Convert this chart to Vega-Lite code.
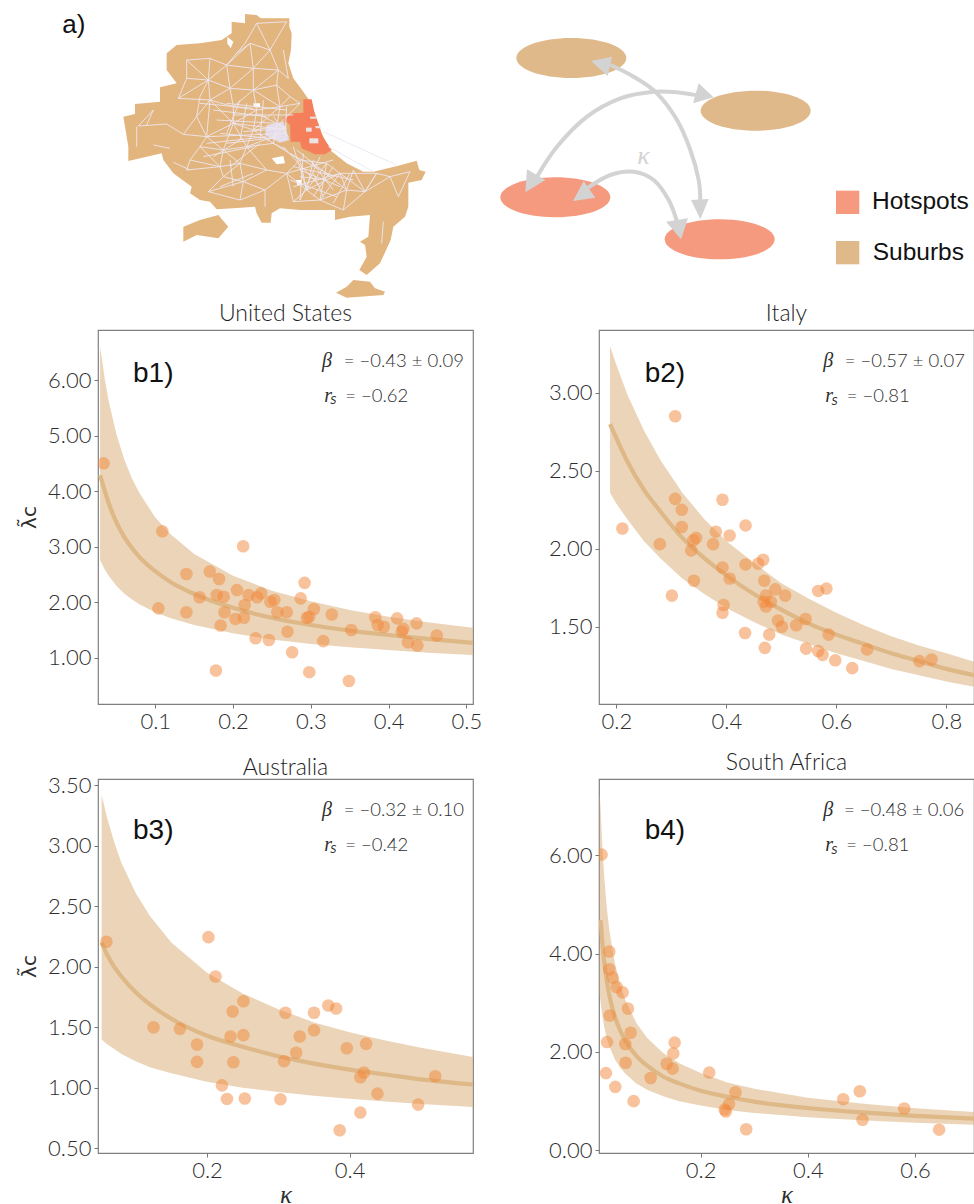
{
"$schema":"https://vega.github.io/schema/vega-lite/v6.json",
"padding":{"left":18,"top":0,"right":0,"bottom":0},
"background":"white",
"bounds":"flush",
"columns":2,
"spacing":{"row":75,"column":126},
"config":{"view":{"stroke":"#808080","strokeWidth":1.2},
"axis":{"grid":false,"domain":false,"labelFont":"Lato","labelFontSize":22,"labelColor":"#2e2e2e","tickColor":"#777777","tickSize":4,"labelPadding":3,"titleFontWeight":"normal","labelFontWeight":300},
"title":{"font":"Lato","fontSize":23,"fontWeight":300,"color":"#1e1e1e","offset":0}},
"datasets":{
"polys":[
{"id":"a1","part":"suburb","x":735,"y":42},{"id":"a1","part":"suburb","x":770,"y":45},{"id":"a1","part":"suburb","x":782,"y":55},{"id":"a1","part":"suburb","x":868,"y":55},{"id":"a1","part":"suburb","x":868,"y":80},{"id":"a1","part":"suburb","x":875,"y":100},{"id":"a1","part":"suburb","x":873,"y":150},{"id":"a1","part":"suburb","x":865,"y":190},{"id":"a1","part":"suburb","x":880,"y":235},{"id":"a1","part":"suburb","x":910,"y":275},{"id":"a1","part":"suburb","x":925,"y":297},{"id":"a1","part":"suburb","x":945,"y":340},{"id":"a1","part":"suburb","x":965,"y":400},{"id":"a1","part":"suburb","x":990,"y":450},{"id":"a1","part":"suburb","x":1040,"y":490},{"id":"a1","part":"suburb","x":1090,"y":515},{"id":"a1","part":"suburb","x":1120,"y":515},{"id":"a1","part":"suburb","x":1195,"y":497},{"id":"a1","part":"suburb","x":1250,"y":482},{"id":"a1","part":"suburb","x":1258,"y":510},{"id":"a1","part":"suburb","x":1277,"y":515},{"id":"a1","part":"suburb","x":1265,"y":540},{"id":"a1","part":"suburb","x":1225,"y":548},{"id":"a1","part":"suburb","x":1225,"y":620},{"id":"a1","part":"suburb","x":1215,"y":650},{"id":"a1","part":"suburb","x":1180,"y":680},{"id":"a1","part":"suburb","x":1172,"y":720},{"id":"a1","part":"suburb","x":1140,"y":790},{"id":"a1","part":"suburb","x":1100,"y":825},{"id":"a1","part":"suburb","x":1078,"y":810},{"id":"a1","part":"suburb","x":1100,"y":770},{"id":"a1","part":"suburb","x":1095,"y":735},{"id":"a1","part":"suburb","x":1080,"y":725},{"id":"a1","part":"suburb","x":1105,"y":710},{"id":"a1","part":"suburb","x":1110,"y":645},{"id":"a1","part":"suburb","x":1050,"y":650},{"id":"a1","part":"suburb","x":1005,"y":660},{"id":"a1","part":"suburb","x":1005,"y":630},{"id":"a1","part":"suburb","x":900,"y":630},{"id":"a1","part":"suburb","x":840,"y":625},{"id":"a1","part":"suburb","x":815,"y":640},{"id":"a1","part":"suburb","x":812,"y":668},{"id":"a1","part":"suburb","x":785,"y":668},{"id":"a1","part":"suburb","x":770,"y":640},{"id":"a1","part":"suburb","x":765,"y":620},{"id":"a1","part":"suburb","x":700,"y":625},{"id":"a1","part":"suburb","x":650,"y":628},{"id":"a1","part":"suburb","x":630,"y":605},{"id":"a1","part":"suburb","x":600,"y":600},{"id":"a1","part":"suburb","x":570,"y":580},{"id":"a1","part":"suburb","x":575,"y":560},{"id":"a1","part":"suburb","x":520,"y":520},{"id":"a1","part":"suburb","x":490,"y":480},{"id":"a1","part":"suburb","x":485,"y":460},{"id":"a1","part":"suburb","x":385,"y":483},{"id":"a1","part":"suburb","x":385,"y":440},{"id":"a1","part":"suburb","x":370,"y":350},{"id":"a1","part":"suburb","x":405,"y":342},{"id":"a1","part":"suburb","x":405,"y":312},{"id":"a1","part":"suburb","x":480,"y":305},{"id":"a1","part":"suburb","x":480,"y":262},{"id":"a1","part":"suburb","x":530,"y":250},{"id":"a1","part":"suburb","x":500,"y":210},{"id":"a1","part":"suburb","x":500,"y":160},{"id":"a1","part":"suburb","x":530,"y":135},{"id":"a1","part":"suburb","x":600,"y":130},{"id":"a1","part":"suburb","x":665,"y":120},{"id":"a1","part":"suburb","x":695,"y":100},{"id":"a1","part":"suburb","x":695,"y":65},{"id":"a1","part":"suburb","x":735,"y":70},
{"id":"a2","part":"suburb","x":550,"y":680},{"id":"a2","part":"suburb","x":600,"y":660},{"id":"a2","part":"suburb","x":655,"y":645},{"id":"a2","part":"suburb","x":685,"y":680},{"id":"a2","part":"suburb","x":655,"y":715},{"id":"a2","part":"suburb","x":590,"y":705},{"id":"a2","part":"suburb","x":550,"y":725},
{"id":"a3","part":"suburb","x":1008,"y":878},{"id":"a3","part":"suburb","x":1040,"y":860},{"id":"a3","part":"suburb","x":1060,"y":840},{"id":"a3","part":"suburb","x":1110,"y":845},{"id":"a3","part":"suburb","x":1125,"y":865},{"id":"a3","part":"suburb","x":1155,"y":875},{"id":"a3","part":"suburb","x":1150,"y":885},{"id":"a3","part":"suburb","x":1080,"y":890},{"id":"a3","part":"suburb","x":1040,"y":893},
{"id":"b1","part":"hole","x":815,"y":475},{"id":"b1","part":"hole","x":850,"y":468},{"id":"b1","part":"hole","x":855,"y":490},{"id":"b1","part":"hole","x":830,"y":493},
{"id":"b2","part":"hole","x":760,"y":310},{"id":"b2","part":"hole","x":780,"y":310},{"id":"b2","part":"hole","x":780,"y":322},{"id":"b2","part":"hole","x":762,"y":322},
{"id":"b3","part":"hole","x":888,"y":540},{"id":"b3","part":"hole","x":905,"y":540},{"id":"b3","part":"hole","x":905,"y":556},{"id":"b3","part":"hole","x":892,"y":556},
{"id":"b4","part":"hole","x":682,"y":110},{"id":"b4","part":"hole","x":700,"y":125},{"id":"b4","part":"hole","x":692,"y":145},{"id":"b4","part":"hole","x":682,"y":130},
{"id":"c1","part":"dense","x":800,"y":375},{"id":"c1","part":"dense","x":850,"y":365},{"id":"c1","part":"dense","x":868,"y":420},{"id":"c1","part":"dense","x":840,"y":428},{"id":"c1","part":"dense","x":795,"y":405},
{"id":"d1","part":"hot","x":910,"y":298},{"id":"d1","part":"hot","x":935,"y":298},{"id":"d1","part":"hot","x":945,"y":345},{"id":"d1","part":"hot","x":958,"y":380},{"id":"d1","part":"hot","x":968,"y":410},{"id":"d1","part":"hot","x":995,"y":450},{"id":"d1","part":"hot","x":975,"y":463},{"id":"d1","part":"hot","x":945,"y":463},{"id":"d1","part":"hot","x":905,"y":445},{"id":"d1","part":"hot","x":900,"y":425},{"id":"d1","part":"hot","x":872,"y":425},{"id":"d1","part":"hot","x":870,"y":375},{"id":"d1","part":"hot","x":848,"y":355},{"id":"d1","part":"hot","x":880,"y":340},{"id":"d1","part":"hot","x":910,"y":338},
{"id":"e1","part":"hole2","x":928,"y":415},{"id":"e1","part":"hole2","x":955,"y":415},{"id":"e1","part":"hole2","x":955,"y":430},{"id":"e1","part":"hole2","x":928,"y":430},
{"id":"e2","part":"hole2","x":918,"y":383},{"id":"e2","part":"hole2","x":935,"y":383},{"id":"e2","part":"hole2","x":935,"y":395},{"id":"e2","part":"hole2","x":918,"y":395},
{"id":"e3","part":"hole2","x":930,"y":350},{"id":"e3","part":"hole2","x":950,"y":350},{"id":"e3","part":"hole2","x":950,"y":356},{"id":"e3","part":"hole2","x":930,"y":356},
{"id":"e4","part":"hole2","x":945,"y":378},{"id":"e4","part":"hole2","x":962,"y":378},{"id":"e4","part":"hole2","x":962,"y":385},{"id":"e4","part":"hole2","x":948,"y":385}
],
"edges":[
{"x":860,"y":65,"x2":770,"y2":70},{"x":770,"y":70,"x2":735,"y2":130},{"x":770,"y":70,"x2":810,"y2":150},{"x":860,"y":65,"x2":810,"y2":150},{"x":810,"y":150,"x2":835,"y2":210},{"x":810,"y":150,"x2":750,"y2":130},{"x":750,"y":130,"x2":710,"y2":160},{"x":750,"y":130,"x2":760,"y2":205},{"x":810,"y":150,"x2":760,"y2":205},{"x":735,"y":130,"x2":680,"y2":195},{"x":750,"y":130,"x2":680,"y2":195},{"x":680,"y":195,"x2":630,"y2":175},{"x":630,"y":175,"x2":560,"y2":180},{"x":560,"y":180,"x2":560,"y2":235},{"x":560,"y":180,"x2":625,"y2":240},{"x":630,"y":175,"x2":625,"y2":240},{"x":680,"y":195,"x2":625,"y2":240},{"x":680,"y":195,"x2":690,"y2":265},{"x":680,"y":195,"x2":760,"y2":205},{"x":760,"y":205,"x2":690,"y2":265},{"x":760,"y":205,"x2":760,"y2":270},{"x":760,"y":205,"x2":835,"y2":210},{"x":835,"y":210,"x2":830,"y2":255},{"x":835,"y":210,"x2":760,"y2":270},{"x":850,"y":150,"x2":865,"y2":235},{"x":835,"y":210,"x2":865,"y2":235},{"x":830,"y":255,"x2":870,"y2":290},{"x":830,"y":255,"x2":760,"y2":270},{"x":560,"y":235,"x2":535,"y2":295},{"x":560,"y":235,"x2":625,"y2":240},{"x":535,"y":295,"x2":625,"y2":240},{"x":625,"y":240,"x2":690,"y2":265},{"x":625,"y":240,"x2":600,"y2":290},{"x":625,"y":240,"x2":630,"y2":300},{"x":690,"y":265,"x2":630,"y2":300},{"x":690,"y":265,"x2":760,"y2":270},{"x":690,"y":265,"x2":700,"y2":320},{"x":760,"y":270,"x2":700,"y2":320},{"x":760,"y":270,"x2":770,"y2":330},{"x":760,"y":270,"x2":840,"y2":320},{"x":830,"y":255,"x2":840,"y2":320},{"x":870,"y":290,"x2":840,"y2":320},{"x":870,"y":290,"x2":900,"y2":310},{"x":840,"y":320,"x2":900,"y2":310},{"x":535,"y":295,"x2":630,"y2":300},{"x":630,"y":300,"x2":700,"y2":320},{"x":700,"y":320,"x2":770,"y2":330},{"x":770,"y":330,"x2":840,"y2":320},
{"x":600,"y":290,"x2":590,"y2":350},{"x":590,"y":350,"x2":630,"y2":300},{"x":590,"y":350,"x2":620,"y2":410},{"x":630,"y":300,"x2":620,"y2":410},{"x":630,"y":300,"x2":700,"y2":370},{"x":700,"y":320,"x2":700,"y2":370},{"x":770,"y":330,"x2":700,"y2":370},{"x":770,"y":330,"x2":760,"y2":390},{"x":840,"y":320,"x2":760,"y2":390},{"x":840,"y":320,"x2":830,"y2":380},{"x":900,"y":310,"x2":830,"y2":380},{"x":700,"y":370,"x2":760,"y2":390},{"x":760,"y":390,"x2":830,"y2":380},{"x":620,"y":410,"x2":700,"y2":370},{"x":620,"y":410,"x2":550,"y2":403},{"x":550,"y":403,"x2":590,"y2":350},{"x":620,"y":410,"x2":600,"y2":440},{"x":620,"y":410,"x2":670,"y2":450},{"x":700,"y":370,"x2":670,"y2":450},{"x":700,"y":370,"x2":740,"y2":440},{"x":760,"y":390,"x2":740,"y2":440},{"x":760,"y":390,"x2":820,"y2":430},{"x":830,"y":380,"x2":820,"y2":430},{"x":740,"y":440,"x2":820,"y2":430},{"x":670,"y":450,"x2":740,"y2":440},{"x":600,"y":440,"x2":670,"y2":450},{"x":600,"y":440,"x2":570,"y2":480},{"x":600,"y":440,"x2":660,"y2":500},{"x":670,"y":450,"x2":660,"y2":500},{"x":670,"y":450,"x2":720,"y2":490},{"x":740,"y":440,"x2":720,"y2":490},{"x":570,"y":480,"x2":660,"y2":500},{"x":660,"y":500,"x2":720,"y2":490},{"x":570,"y":480,"x2":560,"y2":510},{"x":560,"y":510,"x2":660,"y2":500},
{"x":660,"y":500,"x2":670,"y2":530},{"x":720,"y":490,"x2":670,"y2":530},{"x":720,"y":490,"x2":730,"y2":545},{"x":670,"y":530,"x2":730,"y2":545},{"x":670,"y":530,"x2":625,"y2":575},{"x":730,"y":545,"x2":625,"y2":575},{"x":730,"y":545,"x2":720,"y2":600},{"x":625,"y":575,"x2":720,"y2":600},{"x":730,"y":545,"x2":795,"y2":570},{"x":720,"y":600,"x2":795,"y2":570},{"x":795,"y":570,"x2":860,"y2":520},{"x":730,"y":545,"x2":800,"y2":510},{"x":720,"y":490,"x2":800,"y2":510},{"x":800,"y":510,"x2":860,"y2":520},{"x":795,"y":570,"x2":795,"y2":620},{"x":860,"y":520,"x2":920,"y2":570},{"x":860,"y":520,"x2":900,"y2":480},{"x":900,"y":480,"x2":980,"y2":490},{"x":860,"y":520,"x2":880,"y2":605},{"x":880,"y":605,"x2":920,"y2":570},{"x":920,"y":570,"x2":960,"y2":600},{"x":880,"y":605,"x2":960,"y2":600},{"x":920,"y":570,"x2":900,"y2":480},{"x":920,"y":570,"x2":980,"y2":490},{"x":980,"y":490,"x2":1020,"y2":520},{"x":920,"y":570,"x2":1020,"y2":520},{"x":960,"y":600,"x2":1020,"y2":520},{"x":960,"y":600,"x2":1030,"y2":630},{"x":1020,"y":520,"x2":1040,"y2":570},{"x":960,"y":600,"x2":1040,"y2":570},{"x":1030,"y":630,"x2":1040,"y2":570},{"x":1040,"y":570,"x2":1095,"y2":575},{"x":1020,"y":520,"x2":1095,"y2":575},{"x":1030,"y":630,"x2":1095,"y2":575},{"x":1020,"y":520,"x2":1130,"y2":520},{"x":1095,"y":575,"x2":1130,"y2":520},{"x":1130,"y":520,"x2":1170,"y2":530},{"x":1170,"y":530,"x2":1195,"y2":590},{"x":1170,"y":530,"x2":1230,"y2":515},{"x":1195,"y":590,"x2":1230,"y2":515},{"x":1095,"y":575,"x2":1170,"y2":530},{"x":820,"y":430,"x2":900,"y2":480},{"x":820,"y":430,"x2":860,"y2":450},{"x":740,"y":440,"x2":800,"y2":510},
{"x":415,"y":378,"x2":460,"y2":330},{"x":460,"y":330,"x2":440,"y2":375},{"x":415,"y":378,"x2":500,"y2":372},{"x":500,"y":372,"x2":550,"y2":403},{"x":410,"y":380,"x2":410,"y2":440},{"x":460,"y":435,"x2":510,"y2":445},{"x":520,"y":487,"x2":570,"y2":510},{"x":1150,"y":665,"x2":1145,"y2":730},{"x":970,"y":395,"x2":1190,"y2":495},{"x":985,"y":440,"x2":1120,"y2":515},
{"x":700,"y":370,"x2":860,"y2":390},{"x":740,"y":440,"x2":860,"y2":395},{"x":620,"y":410,"x2":860,"y2":400},{"x":730,"y":395,"x2":860,"y2":385},{"x":770,"y":340,"x2":860,"y2":385},{"x":800,"y":425,"x2":860,"y2":375},{"x":820,"y":350,"x2":865,"y2":410},{"x":860,"y":320,"x2":855,"y2":420},{"x":850,"y":440,"x2":960,"y2":560},{"x":880,"y":440,"x2":920,"y2":570},{"x":870,"y":460,"x2":1000,"y2":530},{"x":890,"y":450,"x2":1040,"y2":570},{"x":860,"y":520,"x2":1000,"y2":480},{"x":900,"y":530,"x2":980,"y2":540},{"x":900,"y":510,"x2":1020,"y2":560},{"x":940,"y":480,"x2":920,"y2":570},{"x":980,"y":490,"x2":960,"y2":600},{"x":1060,"y":510,"x2":1040,"y2":570},{"x":1060,"y":510,"x2":1095,"y2":575},{"x":880,"y":560,"x2":1020,"y2":520},{"x":680,"y":310,"x2":860,"y2":330},{"x":700,"y":345,"x2":880,"y2":345},{"x":660,"y":400,"x2":860,"y2":420},
{"x":600,"y":310,"x2":760,"y2":325},{"x":640,"y":330,"x2":800,"y2":350},{"x":650,"y":360,"x2":830,"y2":370},{"x":720,"y":300,"x2":680,"y2":400},{"x":740,"y":310,"x2":720,"y2":420},{"x":790,"y":300,"x2":780,"y2":420},{"x":620,"y":430,"x2":800,"y2":410},{"x":680,"y":430,"x2":850,"y2":410},{"x":610,"y":470,"x2":760,"y2":440},{"x":640,"y":470,"x2":720,"y2":420},{"x":690,"y":500,"x2":780,"y2":430},{"x":700,"y":560,"x2":690,"y2":480},{"x":660,"y":560,"x2":760,"y2":520},{"x":910,"y":460,"x2":900,"y2":600},{"x":960,"y":470,"x2":900,"y2":600},{"x":1000,"y":500,"x2":940,"y2":590},{"x":880,"y":500,"x2":1060,"y2":540},{"x":870,"y":540,"x2":1010,"y2":590},{"x":1050,"y":520,"x2":1000,"y2":610},{"x":1130,"y":520,"x2":1095,"y2":575},{"x":940,"y":520,"x2":970,"y2":590},{"x":930,"y":480,"x2":1000,"y2":570}
],
"curves":[
{"id":"A","x":1831,"y":195},{"id":"A","x":1901,"y":230},{"id":"A","x":1971,"y":280},{"id":"A","x":2031,"y":360},{"id":"A","x":2071,"y":450},{"id":"A","x":2096,"y":540},{"id":"A","x":2101,"y":610},
{"id":"B","x":1611,"y":530},{"id":"B","x":1671,"y":440},{"id":"B","x":1761,"y":350},{"id":"B","x":1861,"y":295},{"id":"B","x":1961,"y":275},{"id":"B","x":2041,"y":278},{"id":"B","x":2101,"y":288},
{"id":"C","x":1761,"y":565},{"id":"C","x":1831,"y":525},{"id":"C","x":1901,"y":515},{"id":"C","x":1961,"y":540},{"id":"C","x":2006,"y":600},{"id":"C","x":2031,"y":665}
],
"heads":[
{"id":"h1","x":1773,"y":183},{"id":"h1","x":1836,"y":170},{"id":"h1","x":1823,"y":228},
{"id":"h2","x":2101,"y":658},{"id":"h2","x":2073,"y":600},{"id":"h2","x":2126,"y":597},
{"id":"h3","x":2141,"y":292},{"id":"h3","x":2096,"y":250},{"id":"h3","x":2079,"y":310},
{"id":"h4","x":1576,"y":577},{"id":"h4","x":1581,"y":508},{"id":"h4","x":1636,"y":540},
{"id":"h5","x":1719,"y":603},{"id":"h5","x":1751,"y":543},{"id":"h5","x":1786,"y":593},
{"id":"h6","x":2043,"y":718},{"id":"h6","x":1998,"y":665},{"id":"h6","x":2064,"y":655}
],
"blobs":[{"x":1714,"y":174,"group":"Suburbs"},{"x":2267,"y":332,"group":"Suburbs"},{"x":1666,"y":592,"group":"Hotspots"},{"x":2159,"y":718,"group":"Hotspots"}],
"keys":[{"x":2543,"y":607,"group":"Hotspots"},{"x":2543,"y":758,"group":"Suburbs"}],
"topText":[{"x":187,"y":99,"t":"a)","part":"big"},{"x":2616,"y":627,"t":"Hotspots","part":"key"},{"x":2618,"y":780,"t":"Suburbs","part":"key"},{"x":1912,"y":492,"t":"κ","part":"kappa"}],
"usPts":[{"k":0.0335,"v":4.505},{"k":0.109,"v":3.28},{"k":0.213,"v":3.01},{"k":0.292,"v":2.35},{"k":0.14,"v":2.51},{"k":0.17,"v":2.555},{"k":0.182,"v":2.42},{"k":0.157,"v":2.09},{"k":0.179,"v":2.13},{"k":0.188,"v":2.1},{"k":0.205,"v":2.22},{"k":0.22,"v":2.13},{"k":0.231,"v":2.09},{"k":0.236,"v":2.16},{"k":0.248,"v":2.01},{"k":0.253,"v":2.04},{"k":0.287,"v":2.07},{"k":0.304,"v":1.88},{"k":0.215,"v":1.95},{"k":0.104,"v":1.89},{"k":0.14,"v":1.82},{"k":0.189,"v":1.82},{"k":0.203,"v":1.7},{"k":0.214,"v":1.72},{"k":0.257,"v":1.82},{"k":0.269,"v":1.82},{"k":0.295,"v":1.72},{"k":0.298,"v":1.74},{"k":0.327,"v":1.78},{"k":0.383,"v":1.73},{"k":0.386,"v":1.59},{"k":0.394,"v":1.56},{"k":0.411,"v":1.71},{"k":0.352,"v":1.5},{"k":0.419,"v":1.52},{"k":0.417,"v":1.47},{"k":0.436,"v":1.62},{"k":0.462,"v":1.4},{"k":0.425,"v":1.28},{"k":0.437,"v":1.22},{"k":0.184,"v":1.58},{"k":0.27,"v":1.47},{"k":0.316,"v":1.3},{"k":0.229,"v":1.35},{"k":0.246,"v":1.32},{"k":0.276,"v":1.1},{"k":0.178,"v":0.77},{"k":0.298,"v":0.74},{"k":0.349,"v":0.58}],
"usFit":[{"k":0.029,"lo":2.76,"m":4.29,"hi":6.61},{"k":0.035,"lo":2.59,"m":4.01,"hi":6.03},{"k":0.04,"lo":2.48,"m":3.79,"hi":5.63},{"k":0.05,"lo":2.3,"m":3.44,"hi":5.03},{"k":0.06,"lo":2.16,"m":3.18,"hi":4.58},{"k":0.07,"lo":2.05,"m":2.98,"hi":4.23},{"k":0.08,"lo":1.96,"m":2.81,"hi":3.96},{"k":0.1,"lo":1.82,"m":2.56,"hi":3.53},{"k":0.12,"lo":1.71,"m":2.36,"hi":3.22},{"k":0.15,"lo":1.59,"m":2.15,"hi":2.87},{"k":0.2,"lo":1.44,"m":1.9,"hi":2.48},{"k":0.25,"lo":1.33,"m":1.72,"hi":2.21},{"k":0.3,"lo":1.25,"m":1.59,"hi":2.02},{"k":0.35,"lo":1.19,"m":1.49,"hi":1.86},{"k":0.4,"lo":1.14,"m":1.41,"hi":1.74},{"k":0.45,"lo":1.09,"m":1.34,"hi":1.64},{"k":0.5086,"lo":1.05,"m":1.27,"hi":1.54}],
"usText":[{"k":0.0713,"v":5.97,"t":"b1)","part":"lab"},{"k":0.3144,"v":6.24,"t":"β","part":"it"},{"k":0.3423,"v":6.24,"t":"= −0.43 ± 0.09","part":"eq"},{"k":0.3174,"v":5.61,"t":"r","part":"it"},{"k":0.3251,"v":5.568,"t":"S","part":"sub"},{"k":0.3444,"v":5.61,"t":"= −0.62","part":"eq"}],
"itPts":[{"k":0.307,"v":2.85},{"k":0.393,"v":2.315},{"k":0.307,"v":2.32},{"k":0.319,"v":2.25},{"k":0.319,"v":2.14},{"k":0.435,"v":2.15},{"k":0.211,"v":2.13},{"k":0.381,"v":2.11},{"k":0.406,"v":2.085},{"k":0.279,"v":2.03},{"k":0.345,"v":2.07},{"k":0.34,"v":2.055},{"k":0.376,"v":2.03},{"k":0.336,"v":1.99},{"k":0.467,"v":1.93},{"k":0.458,"v":1.905},{"k":0.435,"v":1.9},{"k":0.393,"v":1.88},{"k":0.406,"v":1.81},{"k":0.341,"v":1.795},{"k":0.469,"v":1.795},{"k":0.301,"v":1.7},{"k":0.489,"v":1.74},{"k":0.507,"v":1.7},{"k":0.472,"v":1.7},{"k":0.567,"v":1.73},{"k":0.582,"v":1.745},{"k":0.468,"v":1.66},{"k":0.481,"v":1.66},{"k":0.472,"v":1.63},{"k":0.395,"v":1.64},{"k":0.393,"v":1.59},{"k":0.494,"v":1.54},{"k":0.501,"v":1.5},{"k":0.544,"v":1.55},{"k":0.527,"v":1.51},{"k":0.434,"v":1.46},{"k":0.478,"v":1.45},{"k":0.586,"v":1.45},{"k":0.47,"v":1.365},{"k":0.545,"v":1.36},{"k":0.567,"v":1.345},{"k":0.575,"v":1.32},{"k":0.598,"v":1.285},{"k":0.629,"v":1.235},{"k":0.656,"v":1.355},{"k":0.751,"v":1.28},{"k":0.773,"v":1.29}],
"itFit":[{"k":0.1885,"lo":2.36,"m":2.8,"hi":3.3},{"k":0.2,"lo":2.29,"m":2.71,"hi":3.18},{"k":0.22,"lo":2.19,"m":2.56,"hi":2.99},{"k":0.25,"lo":2.05,"m":2.38,"hi":2.76},{"k":0.28,"lo":1.94,"m":2.24,"hi":2.57},{"k":0.32,"lo":1.81,"m":2.07,"hi":2.36},{"k":0.36,"lo":1.71,"m":1.94,"hi":2.19},{"k":0.4,"lo":1.62,"m":1.83,"hi":2.05},{"k":0.45,"lo":1.53,"m":1.71,"hi":1.91},{"k":0.5,"lo":1.45,"m":1.61,"hi":1.78},{"k":0.55,"lo":1.39,"m":1.52,"hi":1.68},{"k":0.6,"lo":1.33,"m":1.45,"hi":1.59},{"k":0.65,"lo":1.28,"m":1.39,"hi":1.51},{"k":0.7,"lo":1.23,"m":1.33,"hi":1.44},{"k":0.75,"lo":1.19,"m":1.28,"hi":1.38},{"k":0.8,"lo":1.15,"m":1.23,"hi":1.33},{"k":0.8503,"lo":1.116,"m":1.19,"hi":1.276}],
"itText":[{"k":0.2515,"v":3.068,"t":"b2)","part":"lab"},{"k":0.5764,"v":3.164,"t":"β","part":"it"},{"k":0.6152,"v":3.164,"t":"= −0.57 ± 0.07","part":"eq"},{"k":0.58,"v":2.94,"t":"r","part":"it"},{"k":0.591,"v":2.925,"t":"S","part":"sub"},{"k":0.6188,"v":2.94,"t":"= −0.81","part":"eq"}],
"auPts":[{"k":0.059,"v":2.207},{"k":0.202,"v":2.245},{"k":0.212,"v":1.92},{"k":0.251,"v":1.715},{"k":0.236,"v":1.63},{"k":0.31,"v":1.62},{"k":0.35,"v":1.62},{"k":0.37,"v":1.68},{"k":0.381,"v":1.655},{"k":0.125,"v":1.5},{"k":0.162,"v":1.487},{"k":0.233,"v":1.424},{"k":0.251,"v":1.435},{"k":0.35,"v":1.476},{"k":0.33,"v":1.424},{"k":0.186,"v":1.358},{"k":0.423,"v":1.363},{"k":0.396,"v":1.327},{"k":0.325,"v":1.29},{"k":0.186,"v":1.214},{"k":0.237,"v":1.211},{"k":0.308,"v":1.22},{"k":0.42,"v":1.126},{"k":0.415,"v":1.087},{"k":0.52,"v":1.096},{"k":0.221,"v":1.02},{"k":0.439,"v":0.952},{"k":0.228,"v":0.908},{"k":0.253,"v":0.911},{"k":0.303,"v":0.905},{"k":0.496,"v":0.861},{"k":0.415,"v":0.795},{"k":0.386,"v":0.649}],
"auFit":[{"k":0.0523,"lo":1.4,"m":2.2,"hi":3.42},{"k":0.06,"lo":1.36,"m":2.1,"hi":3.23},{"k":0.07,"lo":1.32,"m":2.0,"hi":3.03},{"k":0.08,"lo":1.28,"m":1.92,"hi":2.86},{"k":0.1,"lo":1.22,"m":1.79,"hi":2.61},{"k":0.12,"lo":1.17,"m":1.69,"hi":2.42},{"k":0.15,"lo":1.12,"m":1.57,"hi":2.2},{"k":0.2,"lo":1.05,"m":1.43,"hi":1.95},{"k":0.25,"lo":1.0,"m":1.34,"hi":1.78},{"k":0.3,"lo":0.966,"m":1.26,"hi":1.65},{"k":0.35,"lo":0.935,"m":1.2,"hi":1.54},{"k":0.4,"lo":0.909,"m":1.15,"hi":1.46},{"k":0.45,"lo":0.886,"m":1.11,"hi":1.39},{"k":0.5,"lo":0.866,"m":1.07,"hi":1.33},{"k":0.5729,"lo":0.842,"m":1.027,"hi":1.255}],
"auText":[{"k":0.0963,"v":3.056,"t":"b3)","part":"lab"},{"k":0.3612,"v":3.246,"t":"β","part":"it"},{"k":0.3916,"v":3.246,"t":"= −0.32 ± 0.10","part":"eq"},{"k":0.3645,"v":2.957,"t":"r","part":"it"},{"k":0.3729,"v":2.937,"t":"S","part":"sub"},{"k":0.3939,"v":2.957,"t":"= −0.42","part":"eq"}],
"zaPts":[{"k":0.0152,"v":6.01},{"k":0.0296,"v":4.04},{"k":0.0296,"v":3.68},{"k":0.0358,"v":3.51},{"k":0.0432,"v":3.32},{"k":0.0544,"v":3.21},{"k":0.0644,"v":2.88},{"k":0.0302,"v":2.74},{"k":0.0694,"v":2.39},{"k":0.0252,"v":2.2},{"k":0.0594,"v":2.16},{"k":0.1515,"v":2.19},{"k":0.149,"v":1.97},{"k":0.06,"v":1.78},{"k":0.1366,"v":1.76},{"k":0.1477,"v":1.66},{"k":0.0233,"v":1.57},{"k":0.216,"v":1.58},{"k":0.0407,"v":1.29},{"k":0.1067,"v":1.47},{"k":0.075,"v":1.0},{"k":0.265,"v":1.18},{"k":0.466,"v":1.04},{"k":0.497,"v":1.2},{"k":0.253,"v":0.94},{"k":0.245,"v":0.83},{"k":0.247,"v":0.79},{"k":0.58,"v":0.85},{"k":0.502,"v":0.62},{"k":0.285,"v":0.43},{"k":0.645,"v":0.42}],
"zaFit":[{"k":0.0115,"lo":3.2,"hi":7.25},{"k":0.0134,"lo":3.0,"m":4.68,"hi":6.92},{"k":0.016,"lo":2.77,"m":4.29,"hi":6.28},{"k":0.02,"lo":2.51,"m":3.84,"hi":5.56},{"k":0.025,"lo":2.27,"m":3.43,"hi":4.91},{"k":0.03,"lo":2.1,"m":3.13,"hi":4.44},{"k":0.04,"lo":1.85,"m":2.71,"hi":3.79},{"k":0.05,"lo":1.68,"m":2.43,"hi":3.36},{"k":0.06,"lo":1.55,"m":2.22,"hi":3.04},{"k":0.08,"lo":1.36,"m":1.92,"hi":2.59},{"k":0.1,"lo":1.23,"m":1.72,"hi":2.29},{"k":0.13,"lo":1.1,"m":1.5,"hi":1.98},{"k":0.16,"lo":1.0,"m":1.36,"hi":1.77},{"k":0.2,"lo":0.91,"m":1.21,"hi":1.57},{"k":0.25,"lo":0.82,"m":1.09,"hi":1.38},{"k":0.3,"lo":0.76,"m":0.99,"hi":1.25},{"k":0.4,"lo":0.67,"m":0.86,"hi":1.07},{"k":0.5,"lo":0.61,"m":0.77,"hi":0.95},{"k":0.6,"lo":0.56,"m":0.7,"hi":0.855},{"k":0.7101,"lo":0.52,"m":0.644,"hi":0.78}],
"zaText":[{"k":0.0955,"v":6.325,"t":"b4)","part":"lab"},{"k":0.4289,"v":6.793,"t":"β","part":"it"},{"k":0.4675,"v":6.793,"t":"= −0.48 ± 0.06","part":"eq"},{"k":0.4327,"v":6.08,"t":"r","part":"it"},{"k":0.4439,"v":6.03,"t":"S","part":"sub"},{"k":0.4719,"v":6.08,"t":"= −0.81","part":"eq"}]
},
"concat":[
{"width":375,"height":254.5,"view":{"stroke":null},
"encoding":{"x":{"field":"x","type":"quantitative","scale":{"domain":[294,1419],"nice":false,"zero":false},"axis":null},"y":{"field":"y","type":"quantitative","scale":{"domain":[763.5,0],"nice":false,"zero":false},"axis":null}},
"layer":[
{"data":{"name":"polys"},"transform":[{"window":[{"op":"row_number","as":"o"}]}],"mark":{"type":"line","strokeWidth":0},"encoding":{"order":{"field":"o"},"detail":{"field":"id"},"fill":{"field":"part","type":"nominal","legend":null,"scale":{"domain":["suburb","hole","dense","hot","hole2"],"range":["#e3b57e","#ffffff","#e4dce8","#f47f5a","#ece4e4"]}}}},
{"data":{"name":"edges"},"mark":{"type":"rule","color":"#ece6f0","strokeWidth":0.9},"encoding":{"x2":{"field":"x2"},"y2":{"field":"y2"}}},
{"data":{"name":"topText"},"transform":[{"filter":"datum.part=='big'"}],"mark":{"type":"text","font":"Liberation Sans","fontSize":26,"align":"left","baseline":"alphabetic","color":"#111111"},"encoding":{"text":{"field":"t"}}}
]},
{"width":375,"height":254.5,"view":{"stroke":null},
"encoding":{"x":{"field":"x","type":"quantitative","scale":{"domain":[1797,2922],"nice":false,"zero":false},"axis":null},"y":{"field":"y","type":"quantitative","scale":{"domain":[763.5,0],"nice":false,"zero":false},"axis":null}},
"layer":[
{"data":{"name":"blobs"},"mark":{"type":"point","filled":true,"opacity":1,"shape":"M-1,0A1,0.3636 0 1,1 1,0A1,0.3636 0 1,1 -1,0Z","size":12100},"encoding":{"color":{"field":"group","type":"nominal","legend":null,"scale":{"domain":["Hotspots","Suburbs"],"range":["#f59a7e","#dfb98a"]}}}},
{"data":{"name":"curves"},"transform":[{"window":[{"op":"row_number","as":"o"}]}],"mark":{"type":"line","color":"#d3d3d3","strokeWidth":4,"interpolate":"cardinal"},"encoding":{"order":{"field":"o"},"detail":{"field":"id"}}},
{"data":{"name":"heads"},"transform":[{"window":[{"op":"row_number","as":"o"}]}],"mark":{"type":"line","fill":"#d3d3d3","strokeWidth":0},"encoding":{"order":{"field":"o"},"detail":{"field":"id"}}},
{"data":{"name":"keys"},"mark":{"type":"point","filled":true,"opacity":1,"shape":"square","size":543},"encoding":{"color":{"field":"group","type":"nominal","legend":null,"scale":{"domain":["Hotspots","Suburbs"],"range":["#eb9f80","#d8b98c"]}}}},
{"data":{"name":"topText"},"transform":[{"filter":"datum.part=='key'"}],"mark":{"type":"text","font":"Liberation Sans","fontSize":24.5,"align":"left","baseline":"alphabetic","color":"#111111"},"encoding":{"text":{"field":"t"}}},
{"data":{"name":"topText"},"transform":[{"filter":"datum.part=='kappa'"}],"mark":{"type":"text","font":"Liberation Serif","fontStyle":"italic","fontSize":26,"align":"left","baseline":"alphabetic","color":"#d3d3d3"},"encoding":{"text":{"field":"t"}}}
]},
{"width":375,"height":374,"title":"United States",
"encoding":{"x":{"field":"k","type":"quantitative","scale":{"domain":[0.0263,0.5086],"nice":false,"zero":false},"axis":{"values":[0.1,0.2,0.3,0.4,0.5],"format":".1f","title":null}},"y":{"type":"quantitative","scale":{"domain":[0.166,6.909],"nice":false,"zero":false},"axis":{"values":[1,2,3,4,5,6],"format":".2f","title":"λ̃c","titleFont":"DejaVu Sans","titleFontSize":20,"titleColor":"#2e2e2e","titlePadding":8}}},
"layer":[
{"data":{"name":"usFit"},"mark":{"type":"area","color":"#deb887","opacity":0.6},"encoding":{"y":{"field":"hi"},"y2":{"field":"lo"}}},
{"data":{"name":"usFit"},"mark":{"type":"line","color":"#deb887","strokeWidth":4.2,"interpolate":"monotone","clip":true},"encoding":{"y":{"field":"m"}}},
{"data":{"name":"usPts"},"mark":{"type":"circle","color":"#f2873a","opacity":0.5,"size":158,"clip":true},"encoding":{"y":{"field":"v"}}},
{"data":{"name":"usText"},"transform":[{"filter":"datum.part=='lab'"}],"mark":{"type":"text","font":"Liberation Sans","fontSize":28,"align":"left","baseline":"alphabetic","color":"#111111"},"encoding":{"y":{"field":"v"},"text":{"field":"t"}}},
{"data":{"name":"usText"},"transform":[{"filter":"datum.part=='eq'"}],"mark":{"type":"text","font":"Lato","fontWeight":300,"fontSize":18.5,"align":"left","baseline":"alphabetic","color":"#2e2e2e"},"encoding":{"y":{"field":"v"},"text":{"field":"t"}}},
{"data":{"name":"usText"},"transform":[{"filter":"datum.part=='it'"}],"mark":{"type":"text","font":"Liberation Serif","fontStyle":"italic","fontSize":20,"align":"left","baseline":"alphabetic","color":"#2e2e2e"},"encoding":{"y":{"field":"v"},"text":{"field":"t"}}},
{"data":{"name":"usText"},"transform":[{"filter":"datum.part=='sub'"}],"mark":{"type":"text","font":"Lato","fontStyle":"italic","fontSize":12,"align":"left","baseline":"alphabetic","color":"#2e2e2e"},"encoding":{"y":{"field":"v"},"text":{"field":"t"}}}
]},
{"width":375,"height":374,"title":"Italy",
"encoding":{"x":{"field":"k","type":"quantitative","scale":{"domain":[0.1685,0.8503],"nice":false,"zero":false},"axis":{"values":[0.2,0.4,0.6,0.8],"format":".1f","title":null}},"y":{"type":"quantitative","scale":{"domain":[1.005,3.403],"nice":false,"zero":false},"axis":{"values":[1.5,2,2.5,3],"format":".2f","title":null}}},
"layer":[
{"data":{"name":"itFit"},"mark":{"type":"area","color":"#deb887","opacity":0.6},"encoding":{"y":{"field":"hi"},"y2":{"field":"lo"}}},
{"data":{"name":"itFit"},"mark":{"type":"line","color":"#deb887","strokeWidth":4.2,"interpolate":"monotone","clip":true},"encoding":{"y":{"field":"m"}}},
{"data":{"name":"itPts"},"mark":{"type":"circle","color":"#f2873a","opacity":0.5,"size":158,"clip":true},"encoding":{"y":{"field":"v"}}},
{"data":{"name":"itText"},"transform":[{"filter":"datum.part=='lab'"}],"mark":{"type":"text","font":"Liberation Sans","fontSize":28,"align":"left","baseline":"alphabetic","color":"#111111"},"encoding":{"y":{"field":"v"},"text":{"field":"t"}}},
{"data":{"name":"itText"},"transform":[{"filter":"datum.part=='eq'"}],"mark":{"type":"text","font":"Lato","fontWeight":300,"fontSize":18.5,"align":"left","baseline":"alphabetic","color":"#2e2e2e"},"encoding":{"y":{"field":"v"},"text":{"field":"t"}}},
{"data":{"name":"itText"},"transform":[{"filter":"datum.part=='it'"}],"mark":{"type":"text","font":"Liberation Serif","fontStyle":"italic","fontSize":20,"align":"left","baseline":"alphabetic","color":"#2e2e2e"},"encoding":{"y":{"field":"v"},"text":{"field":"t"}}},
{"data":{"name":"itText"},"transform":[{"filter":"datum.part=='sub'"}],"mark":{"type":"text","font":"Lato","fontStyle":"italic","fontSize":12,"align":"left","baseline":"alphabetic","color":"#2e2e2e"},"encoding":{"y":{"field":"v"},"text":{"field":"t"}}}
]},
{"width":375,"height":374,"title":{"text":"Australia","offset":-5.7},
"encoding":{"x":{"field":"k","type":"quantitative","scale":{"domain":[0.0472,0.5729],"nice":false,"zero":false},"axis":{"values":[0.2,0.4],"format":".1f","title":"κ","titleFont":"Liberation Serif","titleFontStyle":"italic","titleFontSize":25,"titleColor":"#2e2e2e","titlePadding":1}},"y":{"type":"quantitative","scale":{"domain":[0.461,3.552],"nice":false,"zero":false},"axis":{"values":[0.5,1,1.5,2,2.5,3,3.5],"format":".2f","title":"λ̃c","titleFont":"DejaVu Sans","titleFontSize":20,"titleColor":"#2e2e2e","titlePadding":8}}},
"layer":[
{"data":{"name":"auFit"},"mark":{"type":"area","color":"#deb887","opacity":0.6},"encoding":{"y":{"field":"hi"},"y2":{"field":"lo"}}},
{"data":{"name":"auFit"},"mark":{"type":"line","color":"#deb887","strokeWidth":4.2,"interpolate":"monotone","clip":true},"encoding":{"y":{"field":"m"}}},
{"data":{"name":"auPts"},"mark":{"type":"circle","color":"#f2873a","opacity":0.5,"size":158,"clip":true},"encoding":{"y":{"field":"v"}}},
{"data":{"name":"auText"},"transform":[{"filter":"datum.part=='lab'"}],"mark":{"type":"text","font":"Liberation Sans","fontSize":28,"align":"left","baseline":"alphabetic","color":"#111111"},"encoding":{"y":{"field":"v"},"text":{"field":"t"}}},
{"data":{"name":"auText"},"transform":[{"filter":"datum.part=='eq'"}],"mark":{"type":"text","font":"Lato","fontWeight":300,"fontSize":18.5,"align":"left","baseline":"alphabetic","color":"#2e2e2e"},"encoding":{"y":{"field":"v"},"text":{"field":"t"}}},
{"data":{"name":"auText"},"transform":[{"filter":"datum.part=='it'"}],"mark":{"type":"text","font":"Liberation Serif","fontStyle":"italic","fontSize":20,"align":"left","baseline":"alphabetic","color":"#2e2e2e"},"encoding":{"y":{"field":"v"},"text":{"field":"t"}}},
{"data":{"name":"auText"},"transform":[{"filter":"datum.part=='sub'"}],"mark":{"type":"text","font":"Lato","fontStyle":"italic","fontSize":12,"align":"left","baseline":"alphabetic","color":"#2e2e2e"},"encoding":{"y":{"field":"v"},"text":{"field":"t"}}}
]},
{"width":375,"height":374,"title":"South Africa",
"encoding":{"x":{"field":"k","type":"quantitative","scale":{"domain":[0.0103,0.7101],"nice":false,"zero":false},"axis":{"values":[0.2,0.4,0.6],"format":".1f","title":"κ","titleFont":"Liberation Serif","titleFontStyle":"italic","titleFontSize":25,"titleColor":"#2e2e2e","titlePadding":1}},"y":{"type":"quantitative","scale":{"domain":[-0.054,7.546],"nice":false,"zero":false},"axis":{"values":[0,2,4,6],"format":".2f","title":null}}},
"layer":[
{"data":{"name":"zaFit"},"mark":{"type":"area","color":"#deb887","opacity":0.6},"encoding":{"y":{"field":"hi"},"y2":{"field":"lo"}}},
{"data":{"name":"zaFit"},"mark":{"type":"line","color":"#deb887","strokeWidth":4.2,"interpolate":"monotone","clip":true},"encoding":{"y":{"field":"m"}}},
{"data":{"name":"zaPts"},"mark":{"type":"circle","color":"#f2873a","opacity":0.5,"size":158,"clip":true},"encoding":{"y":{"field":"v"}}},
{"data":{"name":"zaText"},"transform":[{"filter":"datum.part=='lab'"}],"mark":{"type":"text","font":"Liberation Sans","fontSize":28,"align":"left","baseline":"alphabetic","color":"#111111"},"encoding":{"y":{"field":"v"},"text":{"field":"t"}}},
{"data":{"name":"zaText"},"transform":[{"filter":"datum.part=='eq'"}],"mark":{"type":"text","font":"Lato","fontWeight":300,"fontSize":18.5,"align":"left","baseline":"alphabetic","color":"#2e2e2e"},"encoding":{"y":{"field":"v"},"text":{"field":"t"}}},
{"data":{"name":"zaText"},"transform":[{"filter":"datum.part=='it'"}],"mark":{"type":"text","font":"Liberation Serif","fontStyle":"italic","fontSize":20,"align":"left","baseline":"alphabetic","color":"#2e2e2e"},"encoding":{"y":{"field":"v"},"text":{"field":"t"}}},
{"data":{"name":"zaText"},"transform":[{"filter":"datum.part=='sub'"}],"mark":{"type":"text","font":"Lato","fontStyle":"italic","fontSize":12,"align":"left","baseline":"alphabetic","color":"#2e2e2e"},"encoding":{"y":{"field":"v"},"text":{"field":"t"}}}
]}
]
}
